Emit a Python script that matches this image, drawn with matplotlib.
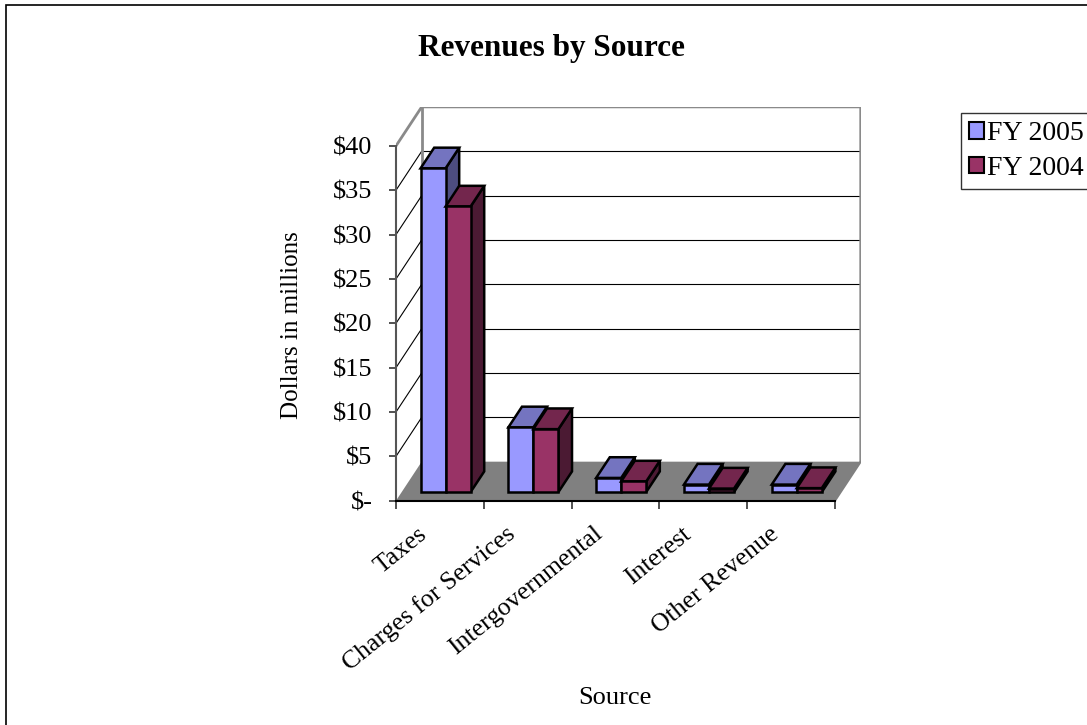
import matplotlib
matplotlib.use("Agg")
import matplotlib.pyplot as plt
from matplotlib.patches import Polygon, Rectangle, Patch

plt.rcParams['font.family'] = ['Liberation Serif', 'DejaVu Serif']

categories = ["Taxes", "Charges for Services", "Intergovernmental", "Interest", "Other Revenue"]
series = ["FY 2005", "FY 2004"]
fy2005 = [36.5, 7.3, 1.6, 0.85, 0.85]
fy2004 = [32.2, 7.1, 1.2, 0.4, 0.45]
yticks = [0, 5, 10, 15, 20, 25, 30, 35, 40]
ytick_labels = ["$-", "$5", "$10", "$15", "$20", "$25", "$30", "$35", "$40"]

front_colors = ["#9999FF", "#993366"]
top_colors = ["#7474C0", "#73264D"]
side_colors = ["#4D4D80", "#4B1A33"]

# oblique depth of the 3d box, in data units
DX = 0.293
DY = 4.4
F0, F1 = 0.22, 0.75   # bar front / back as fraction of depth
W = 0.285             # width of one bar
YMAX = 40
n = len(categories)

W_PX, H_PX = 1087, 725
fig = plt.figure(figsize=(W_PX / 100, H_PX / 100), dpi=100)

# axes placed so that x=0 sits at px 396 and y=0 at px 500.7 from top
x0_px, y0_px = 396, 500.7
xs, ys = 87.8, 8.87
ax = fig.add_axes([x0_px / W_PX, (H_PX - y0_px) / H_PX,
                   (n + DX) * xs / W_PX, (YMAX + DY) * ys / H_PX])
ax.set_xlim(0, n + DX)
ax.set_ylim(0, YMAX + DY)
ax.patch.set_visible(False)

# left wall, back wall, floor
ax.add_patch(Polygon([(0, 0), (DX, DY), (DX, YMAX + DY), (0, YMAX)],
                     closed=True, facecolor="white", edgecolor="none", zorder=0))
ax.add_patch(Polygon([(0, 0), (n, 0), (n + DX, DY), (DX, DY)],
                     closed=True, facecolor="#808080", edgecolor="none", zorder=1))
for v in yticks[1:-1]:
    ax.plot([0, DX], [v, v + DY], color="black", lw=0.8, zorder=1)
    ax.plot([DX, n + DX], [v + DY, v + DY], color="black", lw=0.8, zorder=1)
wall = "#8a8a8a"
ax.plot([0, DX, n + DX, n + DX], [YMAX, YMAX + DY, YMAX + DY, DY], color=wall, lw=2, zorder=1,
        solid_joinstyle="miter")
ax.plot([DX, DX], [DY, YMAX + DY], color=wall, lw=2, zorder=1)

# 3d bars: front via ax.bar, top and side faces as polygons
vals = [fy2005, fy2004]
bars = []
for s in range(2):
    left = [i + 0.5 - W + s * W + F0 * DX for i in range(n)]
    base = F0 * DY
    ddx = (F1 - F0) * DX
    ddy = (F1 - F0) * DY
    z = 3 + s
    for xl, v in zip(left, vals[s]):
        top = base + v
        ax.add_patch(Polygon([(xl + W, base), (xl + W, top), (xl + W + ddx, top + ddy),
                              (xl + W + ddx, base + ddy)], closed=True,
                             facecolor=side_colors[s], edgecolor="black", lw=1.8, zorder=z,
                             joinstyle="miter"))
        ax.add_patch(Polygon([(xl, top), (xl + W, top), (xl + W + ddx, top + ddy),
                              (xl + ddx, top + ddy)], closed=True,
                             facecolor=top_colors[s], edgecolor="black", lw=1.8, zorder=z,
                             joinstyle="miter"))
    b = ax.bar(left, vals[s], width=W, bottom=base, align="edge", color=front_colors[s],
               edgecolor="black", linewidth=1.8, zorder=z + 0.5)
    bars.append(b)

# axes lines
for side in ["top", "right"]:
    ax.spines[side].set_visible(False)
ax.spines["left"].set_bounds(0, YMAX)
ax.spines["left"].set_color("#555555")
ax.spines["left"].set_linewidth(1.5)
ax.spines["bottom"].set_bounds(0, n)
ax.spines["bottom"].set_color("black")
ax.spines["bottom"].set_linewidth(1.5)
ax.plot([n, n + DX], [0, DY], color="#808080", lw=1.5, zorder=1)

ax.set_yticks(yticks)
ax.set_yticklabels(ytick_labels, fontsize=19)
ax.tick_params(axis="y", direction="out", length=5, width=1.2, color="#333333", pad=12)
ax.set_xticks(range(n + 1))
ax.set_xticklabels([])
ax.tick_params(axis="x", direction="out", length=5.5, width=1.2, color="#333333")

for i, cat in enumerate(categories):
    ax.annotate(cat, xy=(i + 0.5, 0), xytext=(-11, -22), textcoords="offset points",
                rotation=39, ha="right", va="center", rotation_mode="anchor", fontsize=18.5)

fig.text(551 / W_PX, 1 - 56.3 / H_PX, "Revenues by Source", ha="center", va="baseline",
         fontsize=22.5, fontweight="bold")
fig.text(291.7 / W_PX, 1 - 325 / H_PX, "Dollars in millions", ha="center", va="center",
         rotation=90, fontsize=18)
fig.text(615 / W_PX, 1 - 704 / H_PX, "Source", ha="center", va="baseline", fontsize=19)

handles = [Patch(facecolor=front_colors[s], edgecolor="black", linewidth=1.5) for s in range(2)]
leg = fig.legend(handles, series, loc="upper left", bbox_to_anchor=(960.7 / W_PX, 1 - 112.7 / H_PX),
                 bbox_transform=fig.transFigure, borderaxespad=0, fontsize=20, frameon=True,
                 fancybox=False, edgecolor="black", handlelength=0.55, handleheight=0.55,
                 handletextpad=0.08, borderpad=0.3, labelspacing=0.35)
leg.get_frame().set_linewidth(1.0)

# outer chart border
fig.add_artist(Rectangle((6 / W_PX, -0.05), 1.1, 1.05 - 5 / H_PX, transform=fig.transFigure,
                         fill=False, edgecolor="black", lw=1.2))

fig.savefig("out.png", dpi=100)
